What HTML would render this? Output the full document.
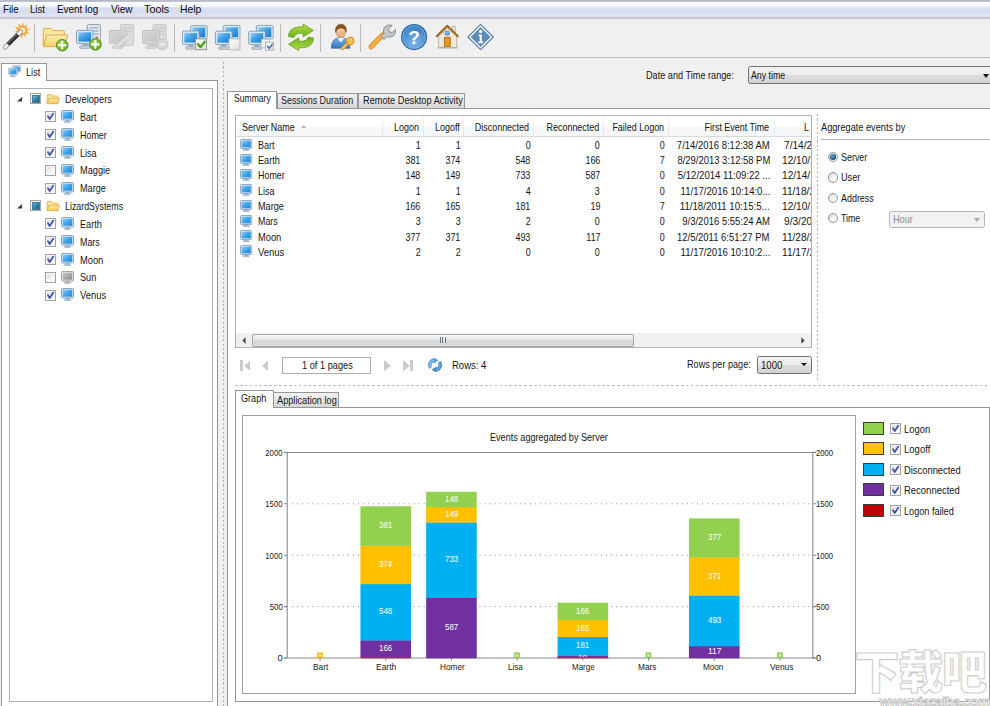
<!DOCTYPE html><html><head><meta charset="utf-8"><title>Remote Desktop Audit</title><style>
*{box-sizing:border-box;margin:0;padding:0}
html,body{width:990px;height:706px;overflow:hidden;background:#f0f0f0}
body{position:relative;font-family:"Liberation Sans",sans-serif;font-size:10.4px;color:#151515;line-height:12px}
.a{position:absolute}
.t{position:absolute;white-space:nowrap;transform-origin:0 50%;line-height:12px}
.t.r{transform-origin:100% 50%}
#menubar{left:0;top:0;width:990px;height:20px;background:linear-gradient(#b4bac6 0,#b4bac6 1.4px,#fbfcfe 2.2px,#eff3fa 6.8px,#dae0f0 7.8px,#d7ddef 11px,#e0e4f2 16.4px,#c2c6d0 17.3px,#c5c8d1 18.5px,#efefef 19.5px,#f0f0f0 20px)}
#toolbar{left:0;top:19.5px;width:990px;height:38.5px;background:linear-gradient(#f0f0f0 0,#f0f0f0 36.8px,#bcbcbc 37.5px,#c6c6c6 38px,#ededed 38.5px)}
.sep{position:absolute;top:4.5px;width:1px;height:28px;background:#b8b8b8}
.tab{position:absolute;border:1px solid #969696;border-bottom:none;background:linear-gradient(#f2f2f2,#e4e4e4 55%,#d6d6d6);}
.tab.sel{background:#fff;border-color:#959595}
.page{position:absolute;background:#fff;border:1px solid #959595}
.cb{position:absolute;width:11px;height:11px;border:1px solid #a0a3a8;background:linear-gradient(135deg,#d8d8d8,#f6f6f6 60%,#fff);box-shadow:inset 0 0 0 1px #f4f4f4}
.rad{position:absolute;width:10.4px;height:10.4px;border-radius:50%;border:1px solid #959aa0;background:radial-gradient(circle at 64% 64%,#ffffff 15%,#cdd1d5 95%)}
</style></head><body><svg width="0" height="0" style="position:absolute"><defs>
<linearGradient id="scr" x1="0" y1="0" x2="1" y2="1"><stop offset="0" stop-color="#8ccdf6"/><stop offset=".5" stop-color="#3fa4ea"/><stop offset="1" stop-color="#2384d6"/></linearGradient>
<linearGradient id="scrg" x1="0" y1="0" x2="1" y2="1"><stop offset="0" stop-color="#c8c8c8"/><stop offset="1" stop-color="#8a8a8a"/></linearGradient>
<linearGradient id="fold" x1="0" y1="0" x2="0" y2="1"><stop offset="0" stop-color="#fde9a4"/><stop offset="1" stop-color="#f3c85a"/></linearGradient>
<linearGradient id="grp" x1="0" y1="0" x2="1" y2="1"><stop offset="0" stop-color="#5fb0d4"/><stop offset="1" stop-color="#15607f"/></linearGradient>
<symbol id="pc" viewBox="0 0 13 13"><rect x=".5" y=".5" width="12" height="9.5" rx="1.2" fill="#d3e2ef" stroke="#809cb8" stroke-width=".9"/><rect x="1.8" y="1.8" width="9.4" height="6.9" fill="url(#scr)"/><rect x="5" y="10.1" width="3" height="1.2" fill="#8fa8c0"/><rect x="3.5" y="11.1" width="6" height="1.5" rx=".7" fill="#c6d5e3" stroke="#809cb8" stroke-width=".6"/></symbol>
<symbol id="pcg" viewBox="0 0 13 13"><rect x=".5" y=".5" width="12" height="9.5" rx="1.2" fill="#e0e0e0" stroke="#9c9c9c" stroke-width=".9"/><rect x="1.8" y="1.8" width="9.4" height="6.9" fill="url(#scrg)"/><rect x="5" y="10.1" width="3" height="1.2" fill="#a8a8a8"/><rect x="3.5" y="11.1" width="6" height="1.500" rx=".7" fill="#cfcfcf" stroke="#9c9c9c" stroke-width=".6"/></symbol>
<symbol id="folder" viewBox="0 0 14 11"><path d="M.6 10.2V1.6Q.6.6 1.6.6H5l1.2 1.5h4.6q1 0 1 1v1.2" fill="#fbe7a2" stroke="#d9a93a" stroke-width=".8"/><path d="M.7 10.3L2.6 4.4h10.9L11.6 10.3Z" fill="url(#fold)" stroke="#d9a93a" stroke-width=".8" stroke-linejoin="round"/></symbol>
<symbol id="chk" viewBox="0 0 11 11"><path d="M3 5.300l1.700 2.800L8.200 2.700" fill="none" stroke="#4354a0" stroke-width="1.8" stroke-linecap="round" stroke-linejoin="round"/></symbol>
</defs></svg><div id="menubar" class="a"></div><span class="t" style="top:3.24px;font-size:10.6px;color:#0c0c14;left:2.59px;transform:scaleX(0.9148);">File</span><span class="t" style="top:3.24px;font-size:10.6px;color:#0c0c14;left:30.19px;transform:scaleX(0.9103);">List</span><span class="t" style="top:3.24px;font-size:10.6px;color:#0c0c14;left:57.08px;transform:scaleX(0.9359);">Event log</span><span class="t" style="top:3.24px;font-size:10.6px;color:#0c0c14;left:110.57px;transform:scaleX(0.9506);">View</span><span class="t" style="top:3.24px;font-size:10.6px;color:#0c0c14;left:143.94px;transform:scaleX(1.0195);">Tools</span><span class="t" style="top:3.24px;font-size:10.6px;color:#0c0c14;left:180.36px;transform:scaleX(0.9762);">Help</span><div id="toolbar" class="a"><div class="sep" style="left:34px"></div><div class="sep" style="left:173.5px"></div><div class="sep" style="left:280px"></div><div class="sep" style="left:320px"></div><div class="sep" style="left:360px"></div></div><div class="page" style="left:1px;top:80px;width:217px;height:640px"></div><div class="tab sel" style="left:1px;top:63px;width:46px;height:18px"></div><span class="t" style="top:67.04px;font-size:10.4px;left:26.10px;transform:scaleX(0.8840);">List</span><svg class="a" style="left:7.6px;top:65px" width="13.4" height="12.6" viewBox="0 0 16 15"><rect x="5.5" y=".8" width="9.6" height="7.6" rx="1" fill="#d4e2ee" stroke="#86a0ba" stroke-width=".8"/><rect x="6.7" y="2" width="7.2" height="5.2" fill="url(#scr)"/><rect x=".8" y="3.8" width="10.4" height="8" rx="1" fill="#d4e2ee" stroke="#86a0ba" stroke-width=".8"/><rect x="2" y="5" width="8" height="5.6" fill="url(#scr)"/><rect x="4.4" y="11.8" width="3.2" height="1.2" fill="#9fb2c6"/><rect x="3" y="12.8" width="6" height="1.4" rx=".6" fill="#b9c7d6" stroke="#8fa6bd" stroke-width=".4"/></svg><div class="a" style="left:9px;top:88px;width:204px;height:614px;border:1px solid #adb1b8;background:#fff"></div><svg class="a" style="left:17.4px;top:97.40px" width="5.2" height="4.6" viewBox="0 0 5.2 4.6"><path d="M4.9 .3V4.3H.5Z" fill="#3a3a3a" stroke="#3a3a3a" stroke-width=".4" stroke-linejoin="round"/></svg><div class="cb" style="left:30px;top:93.40px"></div><div class="a" style="left:32.5px;top:95.90px;width:6px;height:6px;background:linear-gradient(135deg,#6cbbe0,#2a80ac 55%,#17648c);outline:.5px solid #4a7a94"></div><svg class="a" style="left:45.5px;top:94.00px" width="14.5" height="10.6"><use href="#folder"/></svg><span class="t" style="top:94.14px;font-size:10.4px;left:64.80px;transform:scaleX(0.8923);">Developers</span><div class="cb" style="left:45px;top:111.42px"></div><svg class="a" style="left:45px;top:111.42px" width="11" height="11"><use href="#chk"/></svg><svg class="a" style="left:61px;top:110.22px" width="13" height="13"><use href="#pc"/></svg><span class="t" style="top:111.96px;font-size:10.4px;left:80.21px;transform:scaleX(0.8644);">Bart</span><div class="cb" style="left:45px;top:129.24px"></div><svg class="a" style="left:45px;top:129.24px" width="11" height="11"><use href="#chk"/></svg><svg class="a" style="left:61px;top:128.04px" width="13" height="13"><use href="#pc"/></svg><span class="t" style="top:129.78px;font-size:10.4px;left:80.21px;transform:scaleX(0.8584);">Homer</span><div class="cb" style="left:45px;top:147.06px"></div><svg class="a" style="left:45px;top:147.06px" width="11" height="11"><use href="#chk"/></svg><svg class="a" style="left:61px;top:145.86px" width="13" height="13"><use href="#pc"/></svg><span class="t" style="top:147.60px;font-size:10.4px;left:80.21px;transform:scaleX(0.8644);">Lisa</span><div class="cb" style="left:45px;top:164.88px"></div><svg class="a" style="left:61px;top:163.68px" width="13" height="13"><use href="#pc"/></svg><span class="t" style="top:165.42px;font-size:10.4px;left:80.20px;transform:scaleX(0.8857);">Maggie</span><div class="cb" style="left:45px;top:182.70px"></div><svg class="a" style="left:45px;top:182.70px" width="11" height="11"><use href="#chk"/></svg><svg class="a" style="left:61px;top:181.50px" width="13" height="13"><use href="#pc"/></svg><span class="t" style="top:183.24px;font-size:10.4px;left:80.21px;transform:scaleX(0.8756);">Marge</span><svg class="a" style="left:17.4px;top:204.32px" width="5.2" height="4.6" viewBox="0 0 5.2 4.6"><path d="M4.9 .3V4.3H.5Z" fill="#3a3a3a" stroke="#3a3a3a" stroke-width=".4" stroke-linejoin="round"/></svg><div class="cb" style="left:30px;top:200.32px"></div><div class="a" style="left:32.5px;top:202.82px;width:6px;height:6px;background:linear-gradient(135deg,#6cbbe0,#2a80ac 55%,#17648c);outline:.5px solid #4a7a94"></div><svg class="a" style="left:45.5px;top:200.92px" width="14.5" height="10.6"><use href="#folder"/></svg><span class="t" style="top:201.06px;font-size:10.4px;left:64.82px;transform:scaleX(0.8522);">LizardSystems</span><div class="cb" style="left:45px;top:218.34px"></div><svg class="a" style="left:45px;top:218.34px" width="11" height="11"><use href="#chk"/></svg><svg class="a" style="left:61px;top:217.14px" width="13" height="13"><use href="#pc"/></svg><span class="t" style="top:218.88px;font-size:10.4px;left:80.21px;transform:scaleX(0.8771);">Earth</span><div class="cb" style="left:45px;top:236.16px"></div><svg class="a" style="left:45px;top:236.16px" width="11" height="11"><use href="#chk"/></svg><svg class="a" style="left:61px;top:234.96px" width="13" height="13"><use href="#pc"/></svg><span class="t" style="top:236.70px;font-size:10.4px;left:80.21px;transform:scaleX(0.8561);">Mars</span><div class="cb" style="left:45px;top:253.98px"></div><svg class="a" style="left:45px;top:253.98px" width="11" height="11"><use href="#chk"/></svg><svg class="a" style="left:61px;top:252.78px" width="13" height="13"><use href="#pc"/></svg><span class="t" style="top:254.52px;font-size:10.4px;left:80.20px;transform:scaleX(0.8964);">Moon</span><div class="cb" style="left:45px;top:271.80px"></div><svg class="a" style="left:61px;top:270.60px" width="13" height="13"><use href="#pcg"/></svg><span class="t" style="top:272.34px;font-size:10.4px;left:80.20px;transform:scaleX(0.8807);">Sun</span><div class="cb" style="left:45px;top:289.62px"></div><svg class="a" style="left:45px;top:289.62px" width="11" height="11"><use href="#chk"/></svg><svg class="a" style="left:61px;top:288.42px" width="13" height="13"><use href="#pc"/></svg><span class="t" style="top:290.16px;font-size:10.4px;left:80.19px;transform:scaleX(0.9110);">Venus</span><div class="a" style="left:223px;top:62px;width:1px;height:650px;background:repeating-linear-gradient(#b2b2b2 0,#b2b2b2 2.2px,transparent 2.2px,transparent 4.4px)"></div><span class="t" style="top:70.04px;font-size:10.4px;left:646.20px;transform:scaleX(0.8805);">Date and Time range:</span><div class="a" style="left:748px;top:66px;width:260px;height:18px;border:1px solid #707070;border-radius:2.5px;background:linear-gradient(#f3f3f3,#ececec 48%,#dedede 52%,#d2d2d2)"></div><span class="t" style="top:70.04px;font-size:10.4px;left:751.12px;transform:scaleX(0.8476);">Any time</span><div class="a" style="left:982.5px;top:73.5px;width:0;height:0;border-left:3.5px solid transparent;border-right:3.5px solid transparent;border-top:4px solid #111"></div><div class="page" style="left:227px;top:108px;width:800px;height:640px"></div><div class="tab" style="left:277px;top:93px;width:81px;height:15px"></div><div class="tab" style="left:357.5px;top:93px;width:107.5px;height:15px"></div><div class="tab sel" style="left:227px;top:91px;width:50px;height:18px"></div><span class="t" style="top:93.34px;font-size:10.4px;left:234.13px;transform:scaleX(0.8263);">Summary</span><span class="t" style="top:95.44px;font-size:10.4px;left:280.61px;transform:scaleX(0.8570);">Sessions Duration</span><span class="t" style="top:95.44px;font-size:10.4px;left:362.60px;transform:scaleX(0.8862);">Remote Desktop Activity</span><div class="a" style="left:235px;top:115px;width:577px;height:233px;border:1px solid #adb1b8;background:#fff;overflow:hidden"><div class="a" style="left:0;top:0;width:575px;height:21px;background:linear-gradient(#fff,#fff 45%,#f8f9fa 55%,#f5f6f8);border-bottom:1px solid #d9dbdf"></div><div class="a" style="left:146px;top:0;width:1px;height:20px;background:linear-gradient(#f6f6f8,#e0e2e6)"></div><div class="a" style="left:187px;top:0;width:1px;height:20px;background:linear-gradient(#f6f6f8,#e0e2e6)"></div><div class="a" style="left:227px;top:0;width:1px;height:20px;background:linear-gradient(#f6f6f8,#e0e2e6)"></div><div class="a" style="left:297px;top:0;width:1px;height:20px;background:linear-gradient(#f6f6f8,#e0e2e6)"></div><div class="a" style="left:366.5px;top:0;width:1px;height:20px;background:linear-gradient(#f6f6f8,#e0e2e6)"></div><div class="a" style="left:431.5px;top:0;width:1px;height:20px;background:linear-gradient(#f6f6f8,#e0e2e6)"></div><div class="a" style="left:537.5px;top:0;width:1px;height:20px;background:linear-gradient(#f6f6f8,#e0e2e6)"></div></div><span class="t" style="top:122.04px;font-size:10.4px;left:241.61px;transform:scaleX(0.8621);">Server Name</span><svg class="a" style="left:300.8px;top:125.4px" width="5.4" height="3"><path d="M0 3L2.700 .2 5.400 3Z" fill="#aab2bc"/></svg><span class="t r" style="top:122.04px;font-size:10.4px;right:570.66px;transform:scaleX(0.8600);">Logon</span><span class="t r" style="top:122.04px;font-size:10.4px;right:530.66px;transform:scaleX(0.8600);">Logoff</span><span class="t r" style="top:122.04px;font-size:10.4px;right:460.66px;transform:scaleX(0.8600);">Disconnected</span><span class="t r" style="top:122.04px;font-size:10.4px;right:391.16px;transform:scaleX(0.8600);">Reconnected</span><span class="t r" style="top:122.04px;font-size:10.4px;right:326.16px;transform:scaleX(0.8600);">Failed Logon</span><span class="t r" style="top:122.04px;font-size:10.4px;right:220.96px;transform:scaleX(0.8600);">First Event Time</span><span class="t" style="top:122.04px;font-size:10.4px;left:804.21px;transform:scaleX(0.8604);">L</span><svg class="a" style="left:240.3px;top:138.60px" width="12.4" height="12.4"><use href="#pc"/></svg><span class="t" style="top:139.94px;font-size:10.4px;left:258.41px;transform:scaleX(0.8644);">Bart</span><span class="t r" style="top:139.94px;font-size:10.4px;right:569.26px;transform:scaleX(0.8600);">1</span><span class="t r" style="top:139.94px;font-size:10.4px;right:529.26px;transform:scaleX(0.8600);">1</span><span class="t r" style="top:139.94px;font-size:10.4px;right:459.26px;transform:scaleX(0.8600);">0</span><span class="t r" style="top:139.94px;font-size:10.4px;right:389.76px;transform:scaleX(0.8600);">0</span><span class="t r" style="top:139.94px;font-size:10.4px;right:324.76px;transform:scaleX(0.8600);">0</span><span class="t r" style="top:139.94px;font-size:10.4px;right:220.03px;transform:scaleX(0.9128);">7/14/2016 8:12:38 AM</span><div class="a" style="left:775.00px;top:137.90px;width:36.00px;height:14.00px;overflow:hidden"><span class="t" style="top:2.04px;font-size:10.4px;left:8.86px;transform:scaleX(0.9750);">7/14/2016 8</span></div><svg class="a" style="left:240.3px;top:153.87px" width="12.4" height="12.4"><use href="#pc"/></svg><span class="t" style="top:155.21px;font-size:10.4px;left:258.41px;transform:scaleX(0.8771);">Earth</span><span class="t r" style="top:155.21px;font-size:10.4px;right:569.26px;transform:scaleX(0.8600);">381</span><span class="t r" style="top:155.21px;font-size:10.4px;right:529.26px;transform:scaleX(0.8600);">374</span><span class="t r" style="top:155.21px;font-size:10.4px;right:459.26px;transform:scaleX(0.8600);">548</span><span class="t r" style="top:155.21px;font-size:10.4px;right:389.76px;transform:scaleX(0.8600);">166</span><span class="t r" style="top:155.21px;font-size:10.4px;right:324.76px;transform:scaleX(0.8600);">7</span><span class="t r" style="top:155.21px;font-size:10.4px;right:220.04px;transform:scaleX(0.9076);">8/29/2013 3:12:58 PM</span><div class="a" style="left:775.00px;top:153.17px;width:36.00px;height:14.00px;overflow:hidden"><span class="t" style="top:2.04px;font-size:10.4px;left:6.56px;transform:scaleX(0.9750);">12/10/2016 1</span></div><svg class="a" style="left:240.3px;top:169.14px" width="12.4" height="12.4"><use href="#pc"/></svg><span class="t" style="top:170.48px;font-size:10.4px;left:258.41px;transform:scaleX(0.8584);">Homer</span><span class="t r" style="top:170.48px;font-size:10.4px;right:569.26px;transform:scaleX(0.8600);">148</span><span class="t r" style="top:170.48px;font-size:10.4px;right:529.26px;transform:scaleX(0.8600);">149</span><span class="t r" style="top:170.48px;font-size:10.4px;right:459.26px;transform:scaleX(0.8600);">733</span><span class="t r" style="top:170.48px;font-size:10.4px;right:389.76px;transform:scaleX(0.8600);">587</span><span class="t r" style="top:170.48px;font-size:10.4px;right:324.76px;transform:scaleX(0.8600);">0</span><span class="t r" style="top:170.48px;font-size:10.4px;right:220.03px;transform:scaleX(0.9231);">5/12/2014 11:09:22 ...</span><div class="a" style="left:775.00px;top:168.44px;width:36.00px;height:14.00px;overflow:hidden"><span class="t" style="top:2.04px;font-size:10.4px;left:6.56px;transform:scaleX(0.9750);">12/14/2016 1</span></div><svg class="a" style="left:240.3px;top:184.41px" width="12.4" height="12.4"><use href="#pc"/></svg><span class="t" style="top:185.75px;font-size:10.4px;left:258.41px;transform:scaleX(0.8644);">Lisa</span><span class="t r" style="top:185.75px;font-size:10.4px;right:569.26px;transform:scaleX(0.8600);">1</span><span class="t r" style="top:185.75px;font-size:10.4px;right:529.26px;transform:scaleX(0.8600);">1</span><span class="t r" style="top:185.75px;font-size:10.4px;right:459.26px;transform:scaleX(0.8600);">4</span><span class="t r" style="top:185.75px;font-size:10.4px;right:389.76px;transform:scaleX(0.8600);">3</span><span class="t r" style="top:185.75px;font-size:10.4px;right:324.76px;transform:scaleX(0.8600);">0</span><span class="t r" style="top:185.75px;font-size:10.4px;right:220.03px;transform:scaleX(0.9228);">11/17/2016 10:14:0...</span><div class="a" style="left:775.00px;top:183.71px;width:36.00px;height:14.00px;overflow:hidden"><span class="t" style="top:2.04px;font-size:10.4px;left:6.56px;transform:scaleX(0.9750);">11/18/2016 1</span></div><svg class="a" style="left:240.3px;top:199.68px" width="12.4" height="12.4"><use href="#pc"/></svg><span class="t" style="top:201.02px;font-size:10.4px;left:258.41px;transform:scaleX(0.8756);">Marge</span><span class="t r" style="top:201.02px;font-size:10.4px;right:569.26px;transform:scaleX(0.8600);">166</span><span class="t r" style="top:201.02px;font-size:10.4px;right:529.26px;transform:scaleX(0.8600);">165</span><span class="t r" style="top:201.02px;font-size:10.4px;right:459.26px;transform:scaleX(0.8600);">181</span><span class="t r" style="top:201.02px;font-size:10.4px;right:389.76px;transform:scaleX(0.8600);">19</span><span class="t r" style="top:201.02px;font-size:10.4px;right:324.76px;transform:scaleX(0.8600);">7</span><span class="t r" style="top:201.02px;font-size:10.4px;right:220.03px;transform:scaleX(0.9302);">11/18/2011 10:15:5...</span><div class="a" style="left:775.00px;top:198.98px;width:36.00px;height:14.00px;overflow:hidden"><span class="t" style="top:2.04px;font-size:10.4px;left:6.56px;transform:scaleX(0.9750);">12/10/2016 1</span></div><svg class="a" style="left:240.3px;top:214.95px" width="12.4" height="12.4"><use href="#pc"/></svg><span class="t" style="top:216.29px;font-size:10.4px;left:258.41px;transform:scaleX(0.8561);">Mars</span><span class="t r" style="top:216.29px;font-size:10.4px;right:569.26px;transform:scaleX(0.8600);">3</span><span class="t r" style="top:216.29px;font-size:10.4px;right:529.26px;transform:scaleX(0.8600);">3</span><span class="t r" style="top:216.29px;font-size:10.4px;right:459.26px;transform:scaleX(0.8600);">2</span><span class="t r" style="top:216.29px;font-size:10.4px;right:389.76px;transform:scaleX(0.8600);">0</span><span class="t r" style="top:216.29px;font-size:10.4px;right:324.76px;transform:scaleX(0.8600);">0</span><span class="t r" style="top:216.29px;font-size:10.4px;right:220.03px;transform:scaleX(0.9136);">9/3/2016 5:55:24 AM</span><div class="a" style="left:775.00px;top:214.25px;width:36.00px;height:14.00px;overflow:hidden"><span class="t" style="top:2.04px;font-size:10.4px;left:8.86px;transform:scaleX(0.9750);">9/3/2016 5</span></div><svg class="a" style="left:240.3px;top:230.22px" width="12.4" height="12.4"><use href="#pc"/></svg><span class="t" style="top:231.56px;font-size:10.4px;left:258.40px;transform:scaleX(0.8964);">Moon</span><span class="t r" style="top:231.56px;font-size:10.4px;right:569.26px;transform:scaleX(0.8600);">377</span><span class="t r" style="top:231.56px;font-size:10.4px;right:529.26px;transform:scaleX(0.8600);">371</span><span class="t r" style="top:231.56px;font-size:10.4px;right:459.26px;transform:scaleX(0.8600);">493</span><span class="t r" style="top:231.56px;font-size:10.4px;right:389.76px;transform:scaleX(0.8600);">117</span><span class="t r" style="top:231.56px;font-size:10.4px;right:324.76px;transform:scaleX(0.8600);">0</span><span class="t r" style="top:231.56px;font-size:10.4px;right:220.04px;transform:scaleX(0.9117);">12/5/2011 6:51:27 PM</span><div class="a" style="left:775.00px;top:229.52px;width:36.00px;height:14.00px;overflow:hidden"><span class="t" style="top:2.04px;font-size:10.4px;left:6.56px;transform:scaleX(0.9750);">11/28/2016 1</span></div><svg class="a" style="left:240.3px;top:245.49px" width="12.4" height="12.4"><use href="#pc"/></svg><span class="t" style="top:246.83px;font-size:10.4px;left:258.39px;transform:scaleX(0.9110);">Venus</span><span class="t r" style="top:246.83px;font-size:10.4px;right:569.26px;transform:scaleX(0.8600);">2</span><span class="t r" style="top:246.83px;font-size:10.4px;right:529.26px;transform:scaleX(0.8600);">2</span><span class="t r" style="top:246.83px;font-size:10.4px;right:459.26px;transform:scaleX(0.8600);">0</span><span class="t r" style="top:246.83px;font-size:10.4px;right:389.76px;transform:scaleX(0.8600);">0</span><span class="t r" style="top:246.83px;font-size:10.4px;right:324.76px;transform:scaleX(0.8600);">0</span><span class="t r" style="top:246.83px;font-size:10.4px;right:220.03px;transform:scaleX(0.9228);">11/17/2016 10:10:2...</span><div class="a" style="left:775.00px;top:244.79px;width:36.00px;height:14.00px;overflow:hidden"><span class="t" style="top:2.04px;font-size:10.4px;left:6.56px;transform:scaleX(0.9750);">11/17/2016 1</span></div><div class="a" style="left:236px;top:333px;width:575px;height:14px;background:#f0f0f0"></div><div class="a" style="left:252px;top:333.5px;width:382px;height:13px;border:1px solid #a3a5a8;border-radius:2px;background:linear-gradient(#f4f4f4,#e6e6e7 45%,#d6d7d9 50%,#dcdde0)"></div><svg class="a" style="left:242px;top:337px" width="4" height="7"><path d="M3.6 .3V6.7L.4 3.5Z" fill="#444"/></svg><svg class="a" style="left:800.5px;top:337px" width="4" height="7"><path d="M.4 .3V6.7L3.6 3.5Z" fill="#444"/></svg><div class="a" style="left:439.5px;top:337px;width:6px;height:6px;background:repeating-linear-gradient(90deg,#70767e 0,#70767e 1px,transparent 1px,transparent 2.4px)"></div><div class="a" style="left:240.3px;top:359.8px;width:2.4px;height:11.5px;background:#cacacc"></div><svg class="a" style="left:243.5px;top:359.8px" width="6.8" height="11.5"><path d="M6.8 0V11.5L0 5.75Z" fill="#cacacc"/></svg><svg class="a" style="left:261.5px;top:359.8px" width="6.8" height="11.5"><path d="M6.8 0V11.5L0 5.75Z" fill="#cacacc"/></svg><div class="a" style="left:282px;top:357px;width:88.5px;height:16.5px;border:1px solid #a9acb1;background:#fff"></div><span class="t" style="top:360.04px;font-size:10.4px;left:301.60px;transform:scaleX(0.8881);">1 of 1 pages</span><svg class="a" style="left:384px;top:359.8px" width="6.8" height="11.5"><path d="M0 0V11.5L6.8 5.75Z" fill="#cacacc"/></svg><svg class="a" style="left:403px;top:359.8px" width="6.8" height="11.5"><path d="M0 0V11.5L6.8 5.75Z" fill="#cacacc"/></svg><div class="a" style="left:410.2px;top:359.8px;width:2.4px;height:11.5px;background:#cacacc"></div><svg class="a" style="left:428.4px;top:357.9px" width="14" height="14" viewBox="0 0 14 14"><g fill="none" stroke-width="3.5"><path d="M2.800 9.800A4.600 4.600 0 0 1 6.200 2.300" stroke="#5a9fdc"/><path d="M11.200 4.200A4.600 4.600 0 0 1 7.800 11.700" stroke="#4488cc"/></g><path d="M5.400 -.8l5 3.100-5 3.500Z" fill="#5a9fdc"/><path d="M8.600 14.800l-5-3.100 5-3.500Z" fill="#4488cc"/><path d="M2.400 9A4.600 4.600 0 0 1 5.800 2.200" fill="none" stroke="#a8d0f0" stroke-width="1"/><path d="M11.600 5A4.600 4.600 0 0 1 8.200 11.800" fill="none" stroke="#8cbce6" stroke-width="1"/></svg><span class="t" style="top:359.54px;font-size:10.4px;left:451.59px;transform:scaleX(0.9141);">Rows: 4</span><span class="t" style="top:358.94px;font-size:10.4px;left:687.01px;transform:scaleX(0.8764);">Rows per page:</span><div class="a" style="left:757px;top:356px;width:55px;height:18px;border:1px solid #707070;border-radius:2.5px;background:linear-gradient(#f3f3f3,#ececec 48%,#dedede 52%,#d2d2d2)"></div><span class="t" style="top:359.74px;font-size:10.4px;left:760.58px;transform:scaleX(0.9224);">1000</span><div class="a" style="left:801.2px;top:362.8px;width:0;height:0;border-left:3.3px solid transparent;border-right:3.3px solid transparent;border-top:3.8px solid #111"></div><div class="a" style="left:816.5px;top:114px;width:1px;height:266px;background:repeating-linear-gradient(#b2b2b2 0,#b2b2b2 2.2px,transparent 2.2px,transparent 4.4px)"></div><span class="t" style="top:122.04px;font-size:10.4px;left:820.60px;transform:scaleX(0.8844);">Aggregate events by</span><div class="a" style="left:821px;top:139px;width:170px;height:1.3px;background:linear-gradient(#b4b7bc,#a4a8ae)"></div><div class="rad" style="left:827.8px;top:151.80px"></div><div class="a" style="left:830.2px;top:154.20px;width:5.6px;height:5.6px;border-radius:50%;background:radial-gradient(circle at 35% 35%,#6ea6cc,#1a4a78 70%)"></div><span class="t" style="top:151.84px;font-size:10.4px;left:841.31px;transform:scaleX(0.8583);">Server</span><div class="rad" style="left:827.8px;top:172.23px"></div><span class="t" style="top:172.27px;font-size:10.4px;left:841.30px;transform:scaleX(0.8787);">User</span><div class="rad" style="left:827.8px;top:192.66px"></div><span class="t" style="top:192.70px;font-size:10.4px;left:841.31px;transform:scaleX(0.8596);">Address</span><div class="rad" style="left:827.8px;top:213.09px"></div><span class="t" style="top:213.13px;font-size:10.4px;left:841.32px;transform:scaleX(0.8479);">Time</span><div class="a" style="left:889px;top:211px;width:95.5px;height:17px;border:1px solid #b4b7bb;border-radius:2.5px;background:#f2f2f2"></div><span class="t" style="top:214.34px;font-size:10.4px;color:#8c8c8c;left:892.60px;transform:scaleX(0.8784);">Hour</span><div class="a" style="left:974px;top:218px;width:0;height:0;border-left:3.5px solid transparent;border-right:3.5px solid transparent;border-top:4px solid #a8a8a8"></div><div class="a" style="left:235px;top:385px;width:760px;height:1px;background:repeating-linear-gradient(90deg,#bcbcbc 0,#bcbcbc 2.6px,transparent 2.6px,transparent 4.9px)"></div><div class="page" style="left:234.5px;top:407px;width:755.5px;height:294.5px"></div><div class="tab" style="left:273px;top:392px;width:66px;height:15px"></div><div class="tab sel" style="left:234.5px;top:390px;width:39px;height:18px"></div><span class="t" style="top:392.84px;font-size:10.4px;left:241.11px;transform:scaleX(0.8753);">Graph</span><span class="t" style="top:394.64px;font-size:10.4px;left:277.10px;transform:scaleX(0.8846);">Application log</span><div class="a" style="left:242px;top:415px;width:614px;height:279px;border:1px solid #a0a0a0;background:#fff"></div><svg class="a" style="left:0;top:0;pointer-events:none" width="990" height="706" viewBox="0 0 990 706"><defs>
<linearGradient id="scr2" x1="0" y1="0" x2="1" y2="1"><stop offset="0" stop-color="#8fd0f6"/><stop offset=".45" stop-color="#3fa2e8"/><stop offset="1" stop-color="#1b78cc"/></linearGradient>
<linearGradient id="scrd" x1="0" y1="0" x2="1" y2="1"><stop offset="0" stop-color="#d4d4d4"/><stop offset="1" stop-color="#c4c4c4"/></linearGradient>
<radialGradient id="gplus" cx=".4" cy=".35" r=".8"><stop offset="0" stop-color="#a6d94a"/><stop offset="1" stop-color="#5a9e1e"/></radialGradient>
<linearGradient id="fold2" x1="0" y1="0" x2="0" y2="1"><stop offset="0" stop-color="#fdeeb4"/><stop offset="1" stop-color="#f4cf6a"/></linearGradient>
<linearGradient id="garr" x1="0" y1="0" x2="0" y2="1"><stop offset="0" stop-color="#b4e04a"/><stop offset="1" stop-color="#6fae1c"/></linearGradient>
<radialGradient id="help" cx=".5" cy=".75" r=".8"><stop offset="0" stop-color="#7db6e6"/><stop offset="1" stop-color="#2f76bc"/></radialGradient>
<linearGradient id="wbox" x1="0" y1="0" x2="1" y2="1"><stop offset="0" stop-color="#ffffff"/><stop offset="1" stop-color="#dcdcdc"/></linearGradient>
<linearGradient id="skin" x1="0" y1="0" x2="0" y2="1"><stop offset="0" stop-color="#f6d6ad"/><stop offset="1" stop-color="#dca874"/></linearGradient>
<linearGradient id="shirt" x1="0" y1="0" x2="0" y2="1"><stop offset="0" stop-color="#7fb4ea"/><stop offset="1" stop-color="#2f74c4"/></linearGradient>
<linearGradient id="wand" x1="0" y1="0" x2="1" y2="1"><stop offset="0" stop-color="#7a7a7a"/><stop offset=".5" stop-color="#2a2a2a"/><stop offset="1" stop-color="#555"/></linearGradient>
</defs><polygon points="29.6,28.9 26.5,30.9 29.1,33.6 25.4,33.3 25.9,37.0 23.1,34.6 21.3,38.0 20.4,34.3 17.1,36.0 18.5,32.5 14.8,31.9 17.9,29.9 15.3,27.2 19.0,27.5 18.5,23.8 21.3,26.2 23.1,22.8 24.0,26.5 27.3,24.8 25.9,28.3" fill="#f6a23a" stroke="#f7c47c" stroke-width=".6"/><circle cx="22.2" cy="30.4" r="3" fill="#fdebc8"/><path d="M5 47.4L20.8 31.6" stroke="#7c7c7c" stroke-width="4.4" stroke-linecap="round"/><path d="M5 47.4L20.8 31.6" stroke="#f4f4f4" stroke-width="3" stroke-linecap="round"/><path d="M8 44.4L17.8 34.6" stroke="#303030" stroke-width="3.7"/><path d="M8.400 42.800L16.600 34.600" stroke="#8c8c8c" stroke-width="1"/><path d="M43.3 46.3V29.6q0-1.2 1.2-1.2h6.2l1.9 2.2h10.6q1.2 0 1.2 1.2v3" fill="#fbe6a0" stroke="#dcae48" stroke-width="1"/><path d="M43.4 46.6l3.4-11.6h21l-3.6 11.6Z" fill="url(#fold2)" stroke="#dcae48" stroke-width="1" stroke-linejoin="round"/><circle cx="62.2" cy="45.2" r="5.8" fill="url(#gplus)" stroke="#4f8a1c" stroke-width=".9"/><path d="M58.800000000000004 45.2H65.60000000000001M62.2 41.800000000000004V48.6" stroke="#fff" stroke-width="2.1" stroke-linecap="round"/><rect x="87.2" y="24.6" width="13.2" height="21" rx="1.5" fill="#e4eaf1" stroke="#8a9eb4" stroke-width="1"/><rect x="89.2" y="27.1" width="9.2" height="1.6" fill="#a9b9ca"/><rect x="89.2" y="30.1" width="9.2" height="1.6" fill="#a9b9ca"/><rect x="89.2" y="33.1" width="9.2" height="1.6" fill="#a9b9ca"/><rect x="95.4" y="36.8" width="2.6" height="1.4" fill="#d04a3a"/><rect x="76.4" y="30.4" width="16.6" height="13.2" rx="1.6" fill="#dde7f0" stroke="#8ba1b8" stroke-width="1"/><rect x="78.30000000000001" y="32.3" width="12.8" height="9.399999999999999" fill="url(#scr2)"/><rect x="82.10000000000001" y="43.89999999999999" width="5.2" height="2.2" fill="#9db0c4"/><rect x="79.5" y="45.8" width="10.4" height="2.6" rx="1.2" fill="#c4d0dc" stroke="#8ba1b8" stroke-width=".7"/><circle cx="95.4" cy="44.4" r="5.8" fill="url(#gplus)" stroke="#4f8a1c" stroke-width=".9"/><path d="M92.0 44.4H98.80000000000001M95.4 41.0V47.8" stroke="#fff" stroke-width="2.1" stroke-linecap="round"/><rect x="120.4" y="24.6" width="13.2" height="21" rx="1.5" fill="#dedede" stroke="#c6c6c6" stroke-width="1"/><rect x="122.4" y="27.1" width="9.2" height="1.6" fill="#cccccc"/><rect x="122.4" y="30.1" width="9.2" height="1.6" fill="#cccccc"/><rect x="122.4" y="33.1" width="9.2" height="1.6" fill="#cccccc"/><rect x="109.4" y="30.4" width="16.6" height="13.2" rx="1.6" fill="#d8d8d8" stroke="#c0c0c0" stroke-width="1"/><rect x="111.30000000000001" y="32.3" width="12.8" height="9.399999999999999" fill="url(#scrd)"/><rect x="115.10000000000001" y="43.89999999999999" width="5.2" height="2.2" fill="#cfcfcf"/><rect x="112.5" y="45.8" width="10.4" height="2.6" rx="1.2" fill="#d6d6d6" stroke="#c0c0c0" stroke-width=".7"/><path d="M115.5 47.5L132.5 32.5" stroke="#d2d2d2" stroke-width="3.6" stroke-linecap="round"/><path d="M115.5 47.5L132.5 32.5" stroke="#e2e2e2" stroke-width="1.6" stroke-linecap="round"/><rect x="153" y="24.6" width="13.2" height="21" rx="1.5" fill="#dedede" stroke="#c6c6c6" stroke-width="1"/><rect x="155" y="27.1" width="9.2" height="1.6" fill="#cccccc"/><rect x="155" y="30.1" width="9.2" height="1.6" fill="#cccccc"/><rect x="155" y="33.1" width="9.2" height="1.6" fill="#cccccc"/><rect x="142.6" y="30.4" width="16.6" height="13.2" rx="1.6" fill="#d8d8d8" stroke="#c0c0c0" stroke-width="1"/><rect x="144.5" y="32.3" width="12.8" height="9.399999999999999" fill="url(#scrd)"/><rect x="148.3" y="43.89999999999999" width="5.2" height="2.2" fill="#cfcfcf"/><rect x="145.70000000000002" y="45.8" width="10.4" height="2.6" rx="1.2" fill="#d6d6d6" stroke="#c0c0c0" stroke-width=".7"/><circle cx="162.4" cy="44.4" r="5.6" fill="#d6d6d6" stroke="#c4c4c4" stroke-width=".9"/><path d="M159.2 44.4h6.4" stroke="#efefef" stroke-width="2"/><rect x="190.6" y="25.6" width="16.6" height="13.6" rx="1.6" fill="#dde7f0" stroke="#8ba1b8" stroke-width="1"/><rect x="192.5" y="27.5" width="12.8" height="9.8" fill="url(#scr2)"/><rect x="182.4" y="31" width="16.6" height="13.4" rx="1.6" fill="#dde7f0" stroke="#8ba1b8" stroke-width="1"/><rect x="184.3" y="32.9" width="12.8" height="9.600000000000001" fill="url(#scr2)"/><rect x="188.10000000000002" y="44.699999999999996" width="5.2" height="2.2" fill="#9db0c4"/><rect x="185.50000000000003" y="46.6" width="10.4" height="2.6" rx="1.2" fill="#c4d0dc" stroke="#8ba1b8" stroke-width=".7"/><rect x="195.6" y="38.9" width="11" height="10.8" fill="url(#wbox)" stroke="#8a8f94" stroke-width=".9"/><path d="M198 44.2l2.4 3 4.4-5.6" fill="none" stroke="#4e9a18" stroke-width="2.2" stroke-linecap="round" stroke-linejoin="round"/><rect x="223.2" y="25.4" width="16.8" height="13.6" rx="1.6" fill="#dde7f0" stroke="#8ba1b8" stroke-width="1"/><rect x="225.1" y="27.299999999999997" width="13.0" height="9.8" fill="url(#scr2)"/><rect x="215.4" y="31.2" width="16.6" height="13.4" rx="1.6" fill="#dde7f0" stroke="#8ba1b8" stroke-width="1"/><rect x="217.3" y="33.1" width="12.8" height="9.600000000000001" fill="url(#scr2)"/><rect x="221.10000000000002" y="44.9" width="5.2" height="2.2" fill="#9db0c4"/><rect x="218.50000000000003" y="46.800000000000004" width="10.4" height="2.6" rx="1.2" fill="#c4d0dc" stroke="#8ba1b8" stroke-width=".7"/><rect x="229" y="38.9" width="11" height="11" fill="url(#wbox)" stroke="#b4b8bc" stroke-width=".9"/><rect x="256.4" y="25.4" width="16.8" height="13.6" rx="1.6" fill="#dde7f0" stroke="#8ba1b8" stroke-width="1"/><rect x="258.29999999999995" y="27.299999999999997" width="13.0" height="9.8" fill="url(#scr2)"/><rect x="248.6" y="31.2" width="16.6" height="13.4" rx="1.6" fill="#dde7f0" stroke="#8ba1b8" stroke-width="1"/><rect x="250.5" y="33.1" width="12.8" height="9.600000000000001" fill="url(#scr2)"/><rect x="254.29999999999998" y="44.9" width="5.2" height="2.2" fill="#9db0c4"/><rect x="251.7" y="46.800000000000004" width="10.4" height="2.6" rx="1.2" fill="#c4d0dc" stroke="#8ba1b8" stroke-width=".7"/><rect x="261.4" y="39.4" width="8" height="8" fill="#eef0f2" stroke="#c0c4c8" stroke-width=".8"/><rect x="265.6" y="42.2" width="8" height="8" fill="url(#wbox)" stroke="#a4a8ae" stroke-width=".8"/><path d="M267.4 46.2l1.8 2.2 3-4" fill="none" stroke="#3c64a8" stroke-width="1.5" stroke-linecap="round" stroke-linejoin="round"/><path d="M288.600 36.600C288.400 29.800 294 26.400 303.200 26.800V24L313.400 30.400L303.200 36.800V33.400C298 33 294.800 34.200 294 37.400Z" fill="url(#garr)" stroke="#63a01c" stroke-width=".8" stroke-linejoin="round"/><path d="M288.600 36.600C288.400 29.800 294 26.400 303.200 26.800V24L313.400 30.400L303.200 36.800V33.400C298 33 294.800 34.200 294 37.400Z" transform="rotate(180 301 37.300)" fill="url(#garr)" stroke="#63a01c" stroke-width=".8" stroke-linejoin="round"/><path d="M331.4 48.200c0-6 2.600-9.600 7.200-10.400h4.600c4 .8 6.600 4.400 6.600 10.400Z" fill="url(#shirt)" stroke="#2c64a8" stroke-width=".7"/><path d="M337.400 37.800l3.400 4.600 3.400-4.600Z" fill="#f4f8fc"/><ellipse cx="340.800" cy="32.200" rx="4.800" ry="5.600" fill="url(#skin)" stroke="#b07a48" stroke-width=".5"/><path d="M335.600 32.400c-.8-5.400 2-8.200 5.400-8.200 3.600 0 6 2.800 5.200 8-1-2.800-2.400-4-5.200-4.200-2.800.2-4.400 1.600-5.400 4.400Z" fill="#8a5220" stroke="#6c3c12" stroke-width=".5"/><path d="M348 43.200l-5.600 5.200" stroke="#d88e1c" stroke-width="3.400" stroke-linecap="round"/><path d="M348 43.200l-5.600 5.200" stroke="#f8c868" stroke-width="1.800" stroke-linecap="round"/><circle cx="350.200" cy="41" r="3.900" fill="#f6c05a" stroke="#d88e1c" stroke-width="1"/><circle cx="351.400" cy="39.800" r="1.200" fill="#fdf0d0" stroke="#d88e1c" stroke-width=".5"/><path d="M371 46.800L382.600 35" stroke="#d98a16" stroke-width="5" stroke-linecap="round"/><path d="M371 46.800L382.600 35" stroke="#f8b446" stroke-width="3.200" stroke-linecap="round"/><path d="M381 36.600l3-3.200c-1.600-3.600.4-7.600 4.800-8.400l3.400.4-3.800 3.400.8 3 3 .8 3.200-3.200c.6 3.400-1 6.200-3.400 7.200-1.800.8-3.400.6-4.800-.2l-3 3Z" fill="#c4c8cc" stroke="#7c8288" stroke-width=".9" stroke-linejoin="round"/><circle cx="414.100" cy="37.100" r="12.400" fill="url(#help)" stroke="#2a66a8" stroke-width="1.300"/><circle cx="414.100" cy="37.100" r="11.300" fill="none" stroke="#8cc0ee" stroke-width=".8" opacity=".8"/><text x="414.100" y="43.600" text-anchor="middle" font-family="Liberation Sans,sans-serif" font-weight="bold" font-size="18.500" fill="#fff">?</text><rect x="452.200" y="26.400" width="3" height="7" fill="#e8e4dc" stroke="#a89c88" stroke-width=".6"/><path d="M438.600 36.400v11h18.200v-11l-9.100-8.600Z" fill="#eeeade" stroke="#b0a894" stroke-width=".8"/><path d="M436.900 36.200l10.400-10.200 10.400 10.200" fill="none" stroke="#8a5a1e" stroke-width="2.200" stroke-linecap="round" stroke-linejoin="round"/><path d="M437.600 36.400l9.700-9.400 9.700 9.400" fill="none" stroke="#d89c4a" stroke-width=".9" stroke-linecap="round" stroke-linejoin="round"/><rect x="445.200" y="31.200" width="4.200" height="4" rx=".8" fill="#7ab4e8" stroke="#4a7cb4" stroke-width=".7"/><rect x="444.400" y="37.400" width="5.800" height="9.400" fill="#e8961e" stroke="#b06a0c" stroke-width=".9"/><rect x="437.400" y="47" width="20.600" height="1.600" rx=".8" fill="#b8b4a8"/><path d="M480.600 24.300l12.700 12.700-12.700 12.700-12.700-12.700Z" fill="#f4f8fc" stroke="#5a7da0" stroke-width="1.100" stroke-linejoin="round"/><path d="M480.600 27.100l9.900 9.900-9.900 9.900-9.900-9.900Z" fill="#5c8cba"/><circle cx="480.600" cy="31.400" r="1.700" fill="#fff"/><path d="M478.600 34.600h3.200v7h1.400v1.600h-5v-1.600h1.500v-5.400h-1.100Z" fill="#fff"/><path d="M292.2 606.60H812.8" stroke="#8c8c8c" stroke-width="1" stroke-dasharray="1 4.06"/><path d="M292.2 555.20H812.8" stroke="#8c8c8c" stroke-width="1" stroke-dasharray="1 4.06"/><path d="M292.2 503.80H812.8" stroke="#8c8c8c" stroke-width="1" stroke-dasharray="1 4.06"/><path d="M287.2 658.0V452.4H812.8V658.0" fill="none" stroke="#878787" stroke-width="1.05"/><path d="M284.0 658.0H816.0" stroke="#878787" stroke-width="1.05"/><path d="M284.0 658.00h3.200M812.8 658.00h3.200" stroke="#858585" stroke-width="1.1"/><path d="M284.0 606.60h3.200M812.8 606.60h3.200" stroke="#858585" stroke-width="1.1"/><path d="M284.0 555.20h3.200M812.8 555.20h3.200" stroke="#858585" stroke-width="1.1"/><path d="M284.0 503.80h3.200M812.8 503.80h3.200" stroke="#858585" stroke-width="1.1"/><path d="M284.0 452.40h3.200M812.8 452.40h3.200" stroke="#858585" stroke-width="1.1"/><path d="M320.05 658.0v2.600" stroke="#858585" stroke-width="1"/><rect x="317.05" y="652.40" width="5.800" height="5.600" fill="#ffc000"/><rect x="318.55" y="654.00" width="2.800" height="2.600" fill="#fff" opacity=".55"/><path d="M385.75 658.0v2.600" stroke="#858585" stroke-width="1"/><rect x="360.45" y="657.28" width="50.6" height="1.02" fill="#c00000"/><rect x="360.45" y="640.22" width="50.6" height="17.36" fill="#7030a0"/><rect x="360.45" y="583.88" width="50.6" height="56.63" fill="#00b0f0"/><rect x="360.45" y="545.43" width="50.6" height="38.75" fill="#ffc000"/><rect x="360.45" y="506.27" width="50.6" height="39.47" fill="#92d050"/><path d="M451.45 658.0v2.600" stroke="#858585" stroke-width="1"/><rect x="426.15" y="597.66" width="50.6" height="60.64" fill="#7030a0"/><rect x="426.15" y="522.30" width="50.6" height="75.65" fill="#00b0f0"/><rect x="426.15" y="506.99" width="50.6" height="15.62" fill="#ffc000"/><rect x="426.15" y="491.77" width="50.6" height="15.51" fill="#92d050"/><path d="M517.15 658.0v2.600" stroke="#858585" stroke-width="1"/><rect x="514.15" y="652.40" width="5.800" height="5.600" fill="#92d050"/><rect x="515.65" y="654.00" width="2.800" height="2.600" fill="#fff" opacity=".55"/><path d="M582.85 658.0v2.600" stroke="#858585" stroke-width="1"/><rect x="557.55" y="657.28" width="50.6" height="1.02" fill="#c00000"/><rect x="557.55" y="655.33" width="50.6" height="2.25" fill="#7030a0"/><rect x="557.55" y="636.72" width="50.6" height="18.91" fill="#00b0f0"/><rect x="557.55" y="619.76" width="50.6" height="17.26" fill="#ffc000"/><rect x="557.55" y="602.69" width="50.6" height="17.36" fill="#92d050"/><path d="M648.55 658.0v2.600" stroke="#858585" stroke-width="1"/><rect x="645.55" y="652.40" width="5.800" height="5.600" fill="#92d050"/><rect x="647.05" y="654.00" width="2.800" height="2.600" fill="#fff" opacity=".55"/><path d="M714.25 658.0v2.600" stroke="#858585" stroke-width="1"/><rect x="688.95" y="645.97" width="50.6" height="12.33" fill="#7030a0"/><rect x="688.95" y="595.29" width="50.6" height="50.98" fill="#00b0f0"/><rect x="688.95" y="557.15" width="50.6" height="38.44" fill="#ffc000"/><rect x="688.95" y="518.40" width="50.6" height="39.06" fill="#92d050"/><path d="M779.95 658.0v2.600" stroke="#858585" stroke-width="1"/><rect x="776.95" y="652.40" width="5.800" height="5.600" fill="#92d050"/><rect x="778.45" y="654.00" width="2.800" height="2.600" fill="#fff" opacity=".55"/></svg><span class="t r" style="top:652.40px;font-size:8.3px;color:#202020;right:707.55px;transform:scaleX(1.1275);">0</span><span class="t" style="top:652.40px;font-size:8.3px;color:#202020;left:815.89px;transform:scaleX(1.1275);">0</span><span class="t r" style="top:601.00px;font-size:8.3px;color:#202020;right:707.62px;transform:scaleX(0.9503);">500</span><span class="t" style="top:601.00px;font-size:8.3px;color:#202020;left:815.97px;transform:scaleX(0.9503);">500</span><span class="t r" style="top:549.60px;font-size:8.3px;color:#202020;right:707.63px;transform:scaleX(0.9278);">1000</span><span class="t" style="top:549.60px;font-size:8.3px;color:#202020;left:815.98px;transform:scaleX(0.9278);">1000</span><span class="t r" style="top:498.20px;font-size:8.3px;color:#202020;right:707.63px;transform:scaleX(0.9278);">1500</span><span class="t" style="top:498.20px;font-size:8.3px;color:#202020;left:815.98px;transform:scaleX(0.9278);">1500</span><span class="t r" style="top:446.80px;font-size:8.3px;color:#202020;right:707.63px;transform:scaleX(0.9278);">2000</span><span class="t" style="top:446.80px;font-size:8.3px;color:#202020;left:815.98px;transform:scaleX(0.9278);">2000</span><span class="t" style="top:643.15px;font-size:8.2px;color:#fff;left:379.11px;transform:scaleX(0.9709);">166</span><span class="t" style="top:606.45px;font-size:8.2px;color:#fff;left:379.11px;transform:scaleX(0.9709);">548</span><span class="t" style="top:559.06px;font-size:8.2px;color:#fff;left:379.11px;transform:scaleX(0.9709);">374</span><span class="t" style="top:520.25px;font-size:8.2px;color:#fff;left:379.11px;transform:scaleX(0.9709);">381</span><span class="t" style="top:622.23px;font-size:8.2px;color:#fff;left:444.81px;transform:scaleX(0.9709);">587</span><span class="t" style="top:554.38px;font-size:8.2px;color:#fff;left:444.81px;transform:scaleX(0.9709);">733</span><span class="t" style="top:509.04px;font-size:8.2px;color:#fff;left:444.81px;transform:scaleX(0.9709);">149</span><span class="t" style="top:493.78px;font-size:8.2px;color:#fff;left:444.81px;transform:scaleX(0.9709);">148</span><div class="a" style="left:572.85px;top:655.33px;width:20.00px;height:1.95px;overflow:hidden"><span class="t" style="top:-2.85px;font-size:7px;color:#fff;left:5.48px;transform:scaleX(1.1599);">19</span></div><span class="t" style="top:640.42px;font-size:8.2px;color:#fff;left:576.21px;transform:scaleX(0.9709);">181</span><span class="t" style="top:622.64px;font-size:8.2px;color:#fff;left:576.21px;transform:scaleX(0.9709);">165</span><span class="t" style="top:605.62px;font-size:8.2px;color:#fff;left:576.21px;transform:scaleX(0.9709);">166</span><span class="t" style="top:646.38px;font-size:8.2px;color:#fff;left:707.59px;transform:scaleX(1.0195);">117</span><span class="t" style="top:615.03px;font-size:8.2px;color:#fff;left:707.61px;transform:scaleX(0.9709);">493</span><span class="t" style="top:570.62px;font-size:8.2px;color:#fff;left:707.61px;transform:scaleX(0.9709);">371</span><span class="t" style="top:532.17px;font-size:8.2px;color:#fff;left:707.61px;transform:scaleX(0.9709);">377</span><span class="t" style="top:432.24px;font-size:10.4px;left:489.61px;transform:scaleX(0.8751);">Events aggregated by Server</span><span class="t" style="top:661.90px;font-size:8.2px;color:#1a1a1a;left:313.29px;transform:scaleX(1.0119);">Bart</span><span class="t" style="top:661.90px;font-size:8.2px;color:#1a1a1a;left:375.89px;transform:scaleX(1.0333);">Earth</span><span class="t" style="top:661.90px;font-size:8.2px;color:#1a1a1a;left:439.80px;transform:scaleX(1.0094);">Homer</span><span class="t" style="top:661.90px;font-size:8.2px;color:#1a1a1a;left:508.05px;transform:scaleX(0.9907);">Lisa</span><span class="t" style="top:661.90px;font-size:8.2px;color:#1a1a1a;left:571.56px;transform:scaleX(0.9768);">Marge</span><span class="t" style="top:661.90px;font-size:8.2px;color:#1a1a1a;left:638.49px;transform:scaleX(1.0114);">Mars</span><span class="t" style="top:661.90px;font-size:8.2px;color:#1a1a1a;left:702.50px;transform:scaleX(0.9957);">Moon</span><span class="t" style="top:661.90px;font-size:8.2px;color:#1a1a1a;left:769.53px;transform:scaleX(1.0336);">Venus</span><div class="a" style="left:862.5px;top:421.5px;width:21px;height:13.3px;background:#92d050;border:1px solid #3c3c3c"></div><div class="cb" style="left:889.5px;top:423.1px"></div><svg class="a" style="left:889.5px;top:423.1px" width="11" height="11"><use href="#chk"/></svg><span class="t" style="top:423.84px;font-size:10.4px;left:903.59px;transform:scaleX(0.9105);">Logon</span><div class="a" style="left:862.5px;top:442.0px;width:21px;height:13.3px;background:#ffc000;border:1px solid #3c3c3c"></div><div class="cb" style="left:889.5px;top:443.6px"></div><svg class="a" style="left:889.5px;top:443.6px" width="11" height="11"><use href="#chk"/></svg><span class="t" style="top:444.34px;font-size:10.4px;left:903.59px;transform:scaleX(0.9172);">Logoff</span><div class="a" style="left:862.5px;top:462.5px;width:21px;height:13.3px;background:#00b0f0;border:1px solid #3c3c3c"></div><div class="cb" style="left:889.5px;top:464.1px"></div><svg class="a" style="left:889.5px;top:464.1px" width="11" height="11"><use href="#chk"/></svg><span class="t" style="top:464.84px;font-size:10.4px;left:903.59px;transform:scaleX(0.9022);">Disconnected</span><div class="a" style="left:862.5px;top:483.0px;width:21px;height:13.3px;background:#7030a0;border:1px solid #3c3c3c"></div><div class="cb" style="left:889.5px;top:484.6px"></div><svg class="a" style="left:889.5px;top:484.6px" width="11" height="11"><use href="#chk"/></svg><span class="t" style="top:485.34px;font-size:10.4px;left:903.59px;transform:scaleX(0.9116);">Reconnected</span><div class="a" style="left:862.5px;top:503.5px;width:21px;height:13.3px;background:#c00000;border:1px solid #3c3c3c"></div><div class="cb" style="left:889.5px;top:505.1px"></div><svg class="a" style="left:889.5px;top:505.1px" width="11" height="11"><use href="#chk"/></svg><span class="t" style="top:505.84px;font-size:10.4px;left:903.60px;transform:scaleX(0.8793);">Logon failed</span><div class="a" style="left:856px;top:640px;width:134px;height:66px;overflow:hidden;pointer-events:none"><span class="a" style="left:-1.5px;top:8.500px;font-family:'Liberation Sans','Noto Sans CJK SC',sans-serif;font-weight:900;font-size:45px;line-height:50px;letter-spacing:-1.2px;color:#fff;-webkit-text-stroke:1.1px #cdcdcd;white-space:nowrap">下载吧</span><span class="a" style="left:23.500px;top:53.500px;font-family:'Liberation Sans',sans-serif;font-weight:bold;font-size:13.500px;line-height:16px;letter-spacing:-.55px;color:#fff;-webkit-text-stroke:.9px #c4c4c4;white-space:nowrap">www.xiazaiba.com</span></div></body></html>
